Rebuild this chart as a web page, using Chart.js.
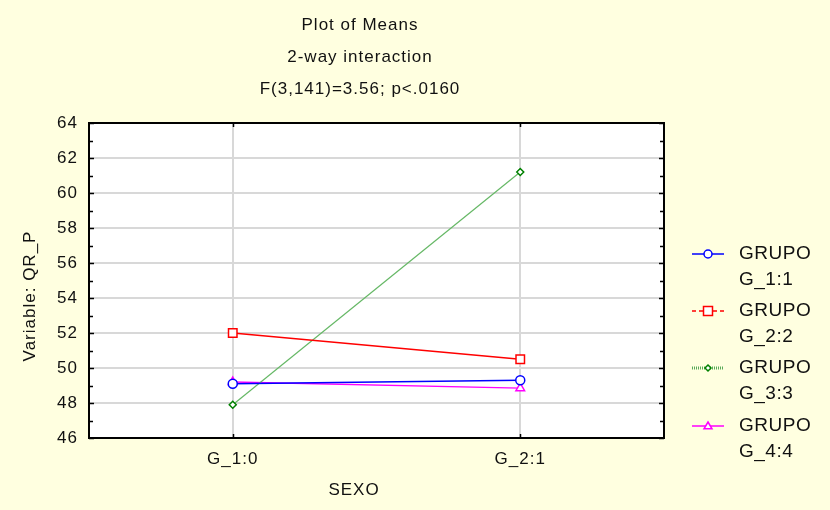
<!DOCTYPE html>
<html>
<head>
<meta charset="utf-8">
<script src="https://cdn.jsdelivr.net/npm/chart.js@4.4.1/dist/chart.umd.min.js"></script>
<style>
  html, body { margin: 0; padding: 0; background: #ffffe0; }
  #wrap { width: 830px; height: 510px; }
</style>
</head>
<body>
<div id="wrap"><canvas id="meansChart" width="830" height="510"></canvas></div>
<script>
// categorias del eje X (SEXO)
const sexo = ['G_1:0', 'G_2:1'];

// medias por grupo
const grupo1 = [49.1, 49.3];
const grupo2 = [52.0, 50.5];
const grupo3 = [47.9, 61.2];
const grupo4 = [49.2, 48.85];

const legendLabels = [
    ['GRUPO', 'G_1:1'],
    ['GRUPO', 'G_2:2'],
    ['GRUPO', 'G_3:3'],
    ['GRUPO', 'G_4:4']
];

const titleLines = ['Plot of Means', '2-way interaction', 'F(3,141)=3.56; p<.0160'];

const yMin = 46, yMax = 64, yStep = 2;

const FONT = '"Liberation Sans", Arial, sans-serif';

function drawMarker(ctx, style, x, y, r, color) {
    ctx.save();
    ctx.strokeStyle = color;
    ctx.fillStyle = '#ffffff';
    ctx.lineWidth = 1.5;
    ctx.setLineDash([]);
    ctx.beginPath();
    if (style === 'circle') {
        ctx.arc(x, y, r, 0, Math.PI * 2);
    } else if (style === 'rect') {
        ctx.rect(x - r, y - r, 2 * r, 2 * r);
    } else if (style === 'rectRot') {
        ctx.moveTo(x, y - r); ctx.lineTo(x + r, y); ctx.lineTo(x, y + r); ctx.lineTo(x - r, y); ctx.closePath();
    } else if (style === 'triangle') {
        ctx.moveTo(x, y - r); ctx.lineTo(x + r, y + r * 0.7); ctx.lineTo(x - r, y + r * 0.7); ctx.closePath();
    }
    ctx.fill();
    ctx.stroke();
    ctx.restore();
}

// fondo, titulos, marco y marcas del eje
const statisticaLook = {
    id: 'statisticaLook',
    beforeLayout(chart) {
        chart.ctx.letterSpacing = '1px';
    },
    beforeDraw(chart) {
        const ctx = chart.ctx;
        ctx.letterSpacing = '1px';
        ctx.save();
        ctx.fillStyle = '#ffffe0';
        ctx.fillRect(0, 0, chart.width, chart.height);
        const a = chart.chartArea;
        ctx.fillStyle = '#ffffff';
        ctx.fillRect(a.left, a.top, a.right - a.left, a.bottom - a.top);
        ctx.restore();
    },
    afterDraw(chart) {
        const ctx = chart.ctx;
        const a = chart.chartArea;
        const ys = chart.scales.y;
        const xs = chart.scales.x;
        ctx.save();

        // marco
        ctx.strokeStyle = '#000';
        ctx.lineWidth = 2;
        ctx.strokeRect(a.left, a.top, a.right - a.left, a.bottom - a.top);

        // marcas menores hacia dentro
        ctx.lineWidth = 1.5;
        ctx.beginPath();
        for (let v = yMin; v <= yMax; v++) {
            const py = Math.round(ys.getPixelForValue(v)) + 0.5;
            const len = (v % 2 === 0) ? 5 : 4;
            ctx.moveTo(a.left, py); ctx.lineTo(a.left + len, py);
            ctx.moveTo(a.right, py); ctx.lineTo(a.right - len, py);
        }
        sexo.forEach((c, i) => {
            const px = Math.round(xs.getPixelForValue(i)) + 0.5;
            ctx.moveTo(px, a.top); ctx.lineTo(px, a.top + 4);
            ctx.moveTo(px, a.bottom); ctx.lineTo(px, a.bottom - 4);
        });
        ctx.stroke();

        // titulos
        ctx.fillStyle = '#111';
        ctx.font = '17px ' + FONT;
        ctx.textAlign = 'center';
        ctx.textBaseline = 'middle';
        const tY = [25, 57, 89];
        titleLines.forEach((t, i) => ctx.fillText(t, 360, tY[i]));

        // titulos de ejes
        ctx.fillText('SEXO', 354, 490);
        ctx.save();
        ctx.translate(30, 296);
        ctx.rotate(-Math.PI / 2);
        ctx.fillText('Variable: QR_P', 0, 0);
        ctx.restore();

        // leyenda
        const legY = [254, 311, 368, 426];
        const dashes = [[], [4, 3], [1, 1], []];
        const widths = [1.5, 1.5, 3, 1.5];
        ctx.letterSpacing = '0.5px';
        chart.data.datasets.forEach((ds, i) => {
            const y = legY[i];
            ctx.save();
            ctx.strokeStyle = ds.legendColor;
            ctx.lineWidth = widths[i];
            ctx.setLineDash(dashes[i]);
            ctx.beginPath();
            ctx.moveTo(692, y); ctx.lineTo(724, y);
            ctx.stroke();
            ctx.restore();
            drawMarker(ctx, ds.pointStyle, 708, y, ds.legendR, ds.pointBorderColor);
            ctx.fillStyle = '#111';
            ctx.font = '19px ' + FONT;
            ctx.textAlign = 'left';
            ctx.fillText(legendLabels[i][0], 739, y);
            ctx.fillText(legendLabels[i][1], 739, y + 26);
        });

        ctx.restore();
    }
};

new Chart(document.getElementById('meansChart').getContext('2d'), {
    type: 'line',
    data: {
        labels: sexo,
        datasets: [
            {
                label: 'GRUPO G_1:1',
                data: grupo1,
                borderColor: '#0000ff',
                borderWidth: 1.5,
                pointStyle: 'circle',
                pointRadius: 4.5,
                pointBorderColor: '#0000ff',
                pointBackgroundColor: '#ffffff',
                pointBorderWidth: 1.5,
                legendColor: '#0000ff',
                legendR: 4
            },
            {
                label: 'GRUPO G_2:2',
                data: grupo2,
                borderColor: '#ff0000',
                borderWidth: 1.5,
                pointStyle: 'rect',
                pointRadius: 6,
                pointBorderColor: '#ff0000',
                pointBackgroundColor: '#ffffff',
                pointBorderWidth: 1.5,
                legendColor: '#ff0000',
                legendR: 4.5
            },
            {
                label: 'GRUPO G_3:3',
                data: grupo3,
                borderColor: '#66b866',
                borderWidth: 1.2,
                pointStyle: 'rectRot',
                pointRadius: 3.5,
                pointBorderColor: '#008000',
                pointBackgroundColor: '#ffffff',
                pointBorderWidth: 1.5,
                legendColor: '#5aab5a',
                legendR: 3
            },
            {
                label: 'GRUPO G_4:4',
                data: grupo4,
                borderColor: '#ff00ff',
                borderWidth: 1.5,
                pointStyle: 'triangle',
                pointRadius: 5,
                pointBorderColor: '#ff00ff',
                pointBackgroundColor: '#ffffff',
                pointBorderWidth: 1.5,
                legendColor: '#ff00ff',
                legendR: 4
            }
        ]
    },
    options: {
        responsive: false,
        animation: false,
        layout: { padding: { top: 123, right: 166, left: 0, bottom: 0 } },
        elements: { line: { tension: 0 } },
        plugins: {
            legend: { display: false },
            title: { display: false },
            tooltip: { enabled: false }
        },
        scales: {
            x: {
                type: 'category',
                offset: true,
                afterFit: (s) => { s.height = 72; },
                grid: {
                    offset: false,
                    color: '#d8d8d8',
                    lineWidth: 2,
                    drawTicks: false
                },
                border: { display: false },
                ticks: {
                    color: '#111',
                    padding: 11,
                    font: { family: FONT, size: 17 }
                }
            },
            y: {
                min: yMin,
                max: yMax,
                afterFit: (s) => { s.width = 89; },
                grid: {
                    color: '#d8d8d8',
                    lineWidth: 2,
                    drawTicks: false
                },
                border: { display: false },
                ticks: {
                    stepSize: yStep,
                    color: '#111',
                    padding: 11,
                    font: { family: FONT, size: 17 }
                }
            }
        }
    },
    plugins: [statisticaLook]
});
</script>
</body>
</html>
